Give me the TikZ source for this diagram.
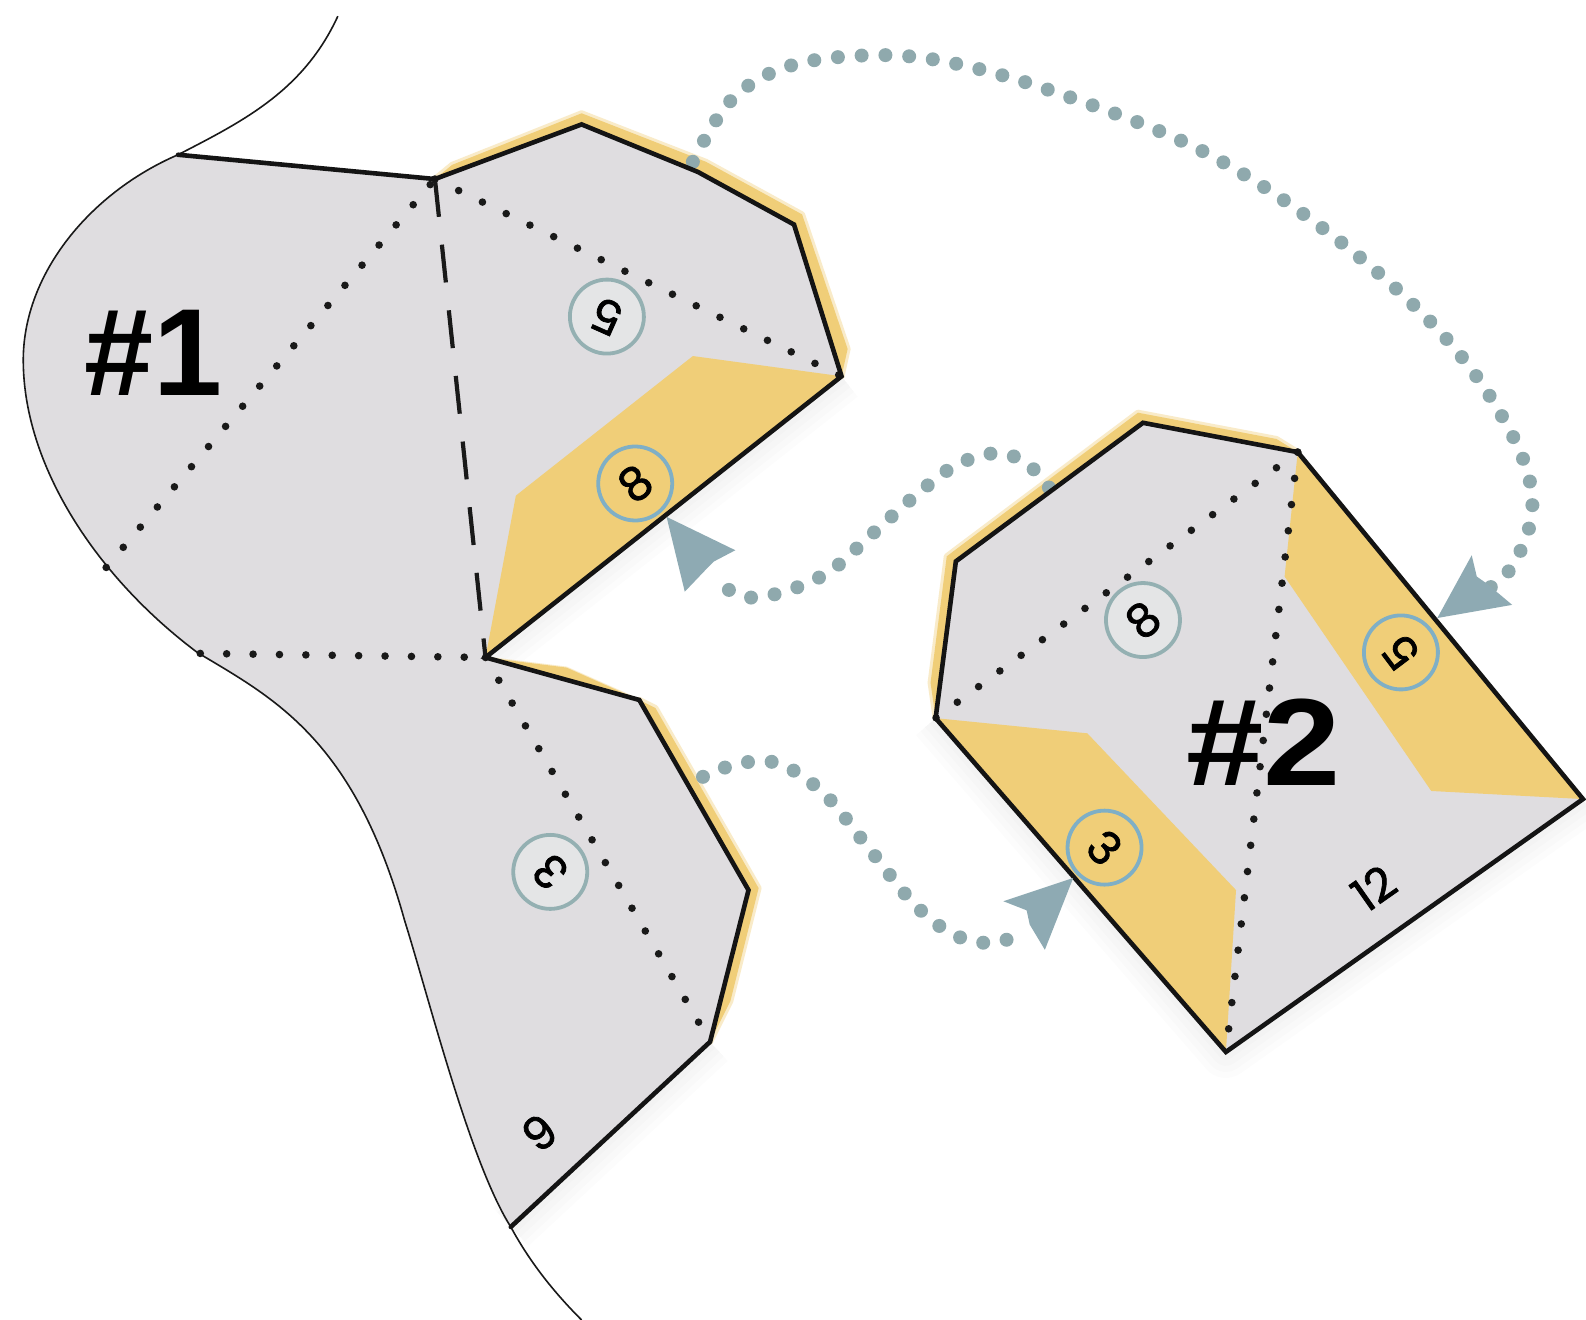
\documentclass[tikz,border=0pt]{standalone}
\usepackage{fontspec}
\setmainfont{Liberation Sans}
\newfontfamily\numfont{Poppins}[FakeBold=1.6]
\definecolor{sheetgray}{HTML}{DFDDE0}
\definecolor{flapyellow}{HTML}{F0CE78}
\definecolor{dotteal}{HTML}{8FA9AD}
\definecolor{headteal}{HTML}{8EAAB3}
\definecolor{ringgray}{HTML}{94B0B2}
\definecolor{ringblue}{HTML}{7FAFC6}
\definecolor{insidepale}{HTML}{E4E5E6}
\tikzset{
  edgeline/.style={line width=2.3pt,line join=miter,line cap=round,black!92},
  foldline/.style={line width=2.1pt,black!90,dash pattern=on 19pt off 14pt},
  dotline/.style={line width=3.8pt,line cap=round,black!90,dash pattern=on 0pt off 13.2pt},
  linkdots/.style={line width=7pt,line cap=round,dotteal,dash pattern=on 0pt off 11.9pt},
  glowstrip/.style={fill=flapyellow,draw=flapyellow,draw opacity=.4,line width=3pt,line join=round},
  softshade/.style={line width=#1,black,opacity=.012,line join=round},
  arrowhead/.style={fill=headteal,draw=none},
  ringplain/.style={circle,draw=ringgray,line width=1.9pt,fill=insidepale,minimum size=37pt,inner sep=0pt,font=\numfont\fontsize{23}{23}\selectfont},
  ringflap/.style={circle,draw=ringblue,line width=1.9pt,minimum size=37pt,inner sep=0pt,font=\numfont\fontsize{23}{23}\selectfont},
  sheetnum/.style={font=\numfont\fontsize{23}{23}\selectfont,inner sep=0pt},
  bigtitle/.style={font=\bfseries\fontsize{62}{62}\selectfont,inner sep=0pt}
}
\begin{document}
\begin{tikzpicture}[x=0.50575pt,y=-0.50575pt]
\useasboundingbox (0,0) rectangle (1568,1305);
\fill[white] (0,0) rectangle (1568,1305);
% sheet 1 corners
\coordinate (a0) at (176,153);
\coordinate (a1) at (430,177);
\coordinate (a2) at (575,123);
\coordinate (a3) at (690,170);
\coordinate (a4) at (785,222);
\coordinate (a5) at (832,372);
\coordinate (a6) at (480,650);
\coordinate (a7) at (632,692);
\coordinate (a8) at (740,880);
\coordinate (a9) at (702,1030);
\coordinate (a10) at (505,1213);
\coordinate (a11) at (105,561);
\coordinate (a12) at (198,646);
\coordinate (f1) at (510,490);
\coordinate (f2) at (685,352);
% sheet 2 corners
\coordinate (b0) at (925,710);
\coordinate (b1) at (945,555);
\coordinate (b2) at (1130,418);
\coordinate (b3) at (1283,447);
\coordinate (b4) at (1565,790);
\coordinate (b5) at (1212,1040);
\coordinate (g1) at (1270,570);
\coordinate (g2) at (1415,782);
\coordinate (g3) at (1075,725);
\coordinate (g4) at (1222,880);
% link end points
\coordinate (la) at (685,160);
\coordinate (lb) at (1037,482);
\coordinate (lc) at (695,768);
\coordinate (ta) at (1421,611);
\coordinate (tb) at (659,511);
\coordinate (tc) at (1061,868);
% soft shadows
\begin{scope}[shift={(-4,7)}]
\foreach \w in {26pt,20pt,14pt,8pt}{
  \draw[softshade=\w] (a5) -- (a6);
  \draw[softshade=\w] (a9) -- (a10);
  \draw[softshade=\w] (b0) -- (b5) -- (b4);
}
\end{scope}
% yellow glow
\path[glowstrip] (a1) -- (447,163) -- (575,112) -- (698,160) -- (793,212) -- (838,345) -- (a5) -- (a4) -- (a3) -- (a2) -- cycle;
\path[glowstrip] (a7) -- (648,700) -- (750,878) -- (722,990) -- (a9) -- (a8) -- cycle;
\path[glowstrip] (b0) -- (920,675) -- (936,550) -- (1125,408) -- (1262,434) -- (b3) -- (b2) -- (b1) -- cycle;
\path[glowstrip,line width=1pt] (a6) -- (560,660) -- (a7) -- cycle;
% dotted links
\draw[linkdots] plot[smooth,tension=.6] coordinates {(la) (722,100) (775,67) (850,55) (930,60) (1040,90) (1190,150) (1320,235) (1430,335) (1495,430) (1515,500) (1495,560) (1462,588)};
\draw[linkdots] plot[smooth,tension=.6] coordinates {(lb) (1015,458) (985,448) (945,460) (905,490) (860,530) (820,565) (775,585) (735,590) (703,570)};
\draw[linkdots] plot[smooth,tension=.6] coordinates {(lc) (730,755) (770,755) (815,785) (860,840) (905,895) (945,925) (985,932) (1015,918)};
% sheets
\fill[sheetgray] (a0) .. controls (90,190) and (23,270) .. (23,356) .. controls (23,460) and (95,570) .. (195,645) .. controls (270,690) and (350,730) .. (400,910) .. controls (425,990) and (465,1150) .. (a10) -- (a9) -- (a8) -- (a7) -- (a6) -- (a5) -- (a4) -- (a3) -- (a2) -- (a1) -- cycle;
\fill[sheetgray] (b0) -- (b1) -- (b2) -- (b3) -- (b4) -- (b5) -- cycle;
% yellow flaps
\fill[flapyellow] (a6) -- (f1) -- (f2) -- (a5) -- cycle;
\fill[flapyellow] (b3) -- (g1) -- (g2) -- (b4) -- cycle;
\fill[flapyellow] (b0) -- (g3) -- (g4) -- (b5) -- cycle;
% dotted folds
\draw[dotline] (a11) -- (a1);
\draw[dotline] (a1) -- (a5);
\draw[dotline] (a12) -- (a6);
\draw[dotline] (a6) -- (a9);
\draw[dotline] (b3) -- (b0);
\draw[dotline] (b3) -- (b5);
\draw[foldline] (a1) -- (a6);
% thin boundary
\draw[line width=.8pt,black!90] (334,16) .. controls (300,90) and (240,120) .. (a0) .. controls (90,190) and (23,270) .. (23,356) .. controls (23,460) and (95,570) .. (195,645) .. controls (270,690) and (350,730) .. (400,910) .. controls (425,990) and (465,1150) .. (a10) .. controls (525,1250) and (550,1280) .. (575,1305);
% black edges
\draw[edgeline] (a0) -- (a1) -- (a2) -- (a3) -- (a4) -- (a5) -- (a6) -- (a7) -- (a8) -- (a9) -- (a10);
\draw[edgeline] (b0) -- (b1) -- (b2) -- (b3) -- (b4) -- (b5) -- cycle;
% numbered rings
\node[ringplain,rotate=156] (n5a) at (600,313) {5};
\node[ringflap,rotate=38] (n8a) at (628,478) {8};
\node[ringplain,rotate=135] (n3a) at (544,862) {3};
\node[ringplain,rotate=40] (n8b) at (1130,613) {8};
\node[ringflap,rotate=-45] (n3b) at (1092,838) {3};
\node[ringflap,rotate=127] (n5b) at (1385,645) {5};
\node[sheetnum,rotate=38] (n9) at (533,1120) {9};
\node[sheetnum,rotate=35] (n12) at (1358,878) {12};
\node[bigtitle] (t1) at (152,349) {\#1};
\node[bigtitle] (t2) at (1249,734) {\scalebox{1.12}[1]{\#2}};
% arrowheads
\fill[arrowhead] (ta) -- (1455,549) -- (1460,570) -- (1470,577) -- (1495,598) -- cycle;
\fill[arrowhead] (tb) -- (727,544) -- (706,555) -- (697,564) -- (677,585) -- cycle;
\fill[arrowhead] (tc) -- (992,891) -- (1015,900) -- (1018,914) -- (1033,939) -- cycle;
\end{tikzpicture}
\end{document}
